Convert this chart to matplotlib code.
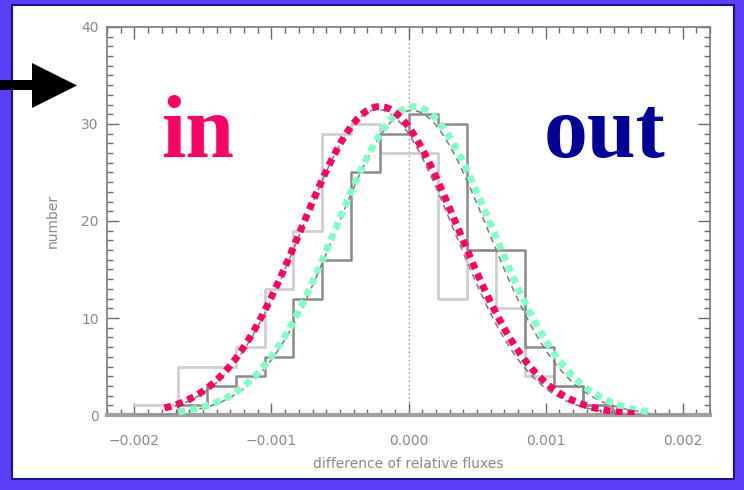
import numpy as np
import matplotlib
matplotlib.use("Agg")
import matplotlib.pyplot as plt
from matplotlib.patches import Rectangle, Polygon
from matplotlib.ticker import FixedLocator, FixedFormatter, MultipleLocator

# Histogram bin centres (difference of relative fluxes)
bin_centers = [-0.002000, -0.001789, -0.001578, -0.001367, -0.001156,
               -0.000945, -0.000734, -0.000523, -0.000312, -0.000101,
               0.000110, 0.000321, 0.000532, 0.000743, 0.000954,
               0.001165, 0.001376, 0.001587, 0.001798, 0.002009]
# counts inside / outside
counts_in = [1, 1, 5, 5, 7, 13, 19, 29, 30, 27, 27, 12, 17, 11, 4, 3, 1, 0, 0, 0]
counts_out = [0, 0, 1, 3, 4, 6, 12, 16, 25, 29, 31, 30, 17, 17, 7, 3, 1, 0, 0, 0]

# Gaussian fits (amplitude, centre, sigma, x-start, x-end)
fit_in = (31.8, -0.00021, 0.00057, -0.00178, 0.00165)
fit_out = (31.8, 0.00004, 0.00057, -0.00168, 0.00175)
# fitted curves from the reduction (thin dashed)
fit_in_base = (31.5, -0.000225, 0.000555, -0.00178, 0.00165)
fit_out_base = (31.4, 0.000025, 0.000555, -0.00168, 0.00175)

x_ticks = [-0.002, -0.001, 0.000, 0.001, 0.002]
x_tick_labels = ["\u22120.002", "\u22120.001", "0.000", "0.001", "0.002"]
y_ticks = [0, 10, 20, 30, 40]
y_tick_labels = ["0", "10", "20", "30", "40"]

W, H = 744, 490
fig = plt.figure(figsize=(W / 100, H / 100), dpi=100)
fig.patch.set_facecolor("#5a3ff6")


def fx(px):
    return px / W


def fy(py):
    return 1 - py / H


# white slide panel with a navy rim
panel = Rectangle((fx(12), fy(479)), fx(734) - fx(12), fy(5) - fy(479),
                  transform=fig.transFigure, facecolor="white",
                  edgecolor="#14148c", linewidth=1.5, zorder=-5)
fig.patches.append(panel)

ax = fig.add_axes([fx(107), fy(415), fx(710) - fx(107), fy(27) - fy(415)], zorder=2)
ax.set_facecolor("white")
ax.set_xlim(-0.0022, 0.0022)
ax.set_ylim(0, 40)


def gauss_curve(p):
    a, mu, s, x0, x1 = p
    x = np.linspace(x0, x1, 400)
    return x, a * np.exp(-0.5 * ((x - mu) / s) ** 2)


ax.step(bin_centers, counts_in, where="mid", color="#cfcfcf", lw=2.0, zorder=2)
ax.step(bin_centers, counts_out, where="mid", color="#8a8a8a", lw=1.8, zorder=3)

for p in (fit_in_base, fit_out_base):
    x, y = gauss_curve(p)
    ax.plot(x, y, color="#7a7a7a", lw=1.1, ls=(0, (4, 3)), zorder=4)

ax.axvline(0.0, color="#909090", lw=1.0, ls=(0, (1, 2)), zorder=1)

x, y = gauss_curve(fit_in)
ax.plot(x, y, color="#ff0066", lw=5.0, ls=(0, (1, 0.75)), solid_capstyle="butt",
        dash_capstyle="butt", zorder=6)
x, y = gauss_curve(fit_out)
ax.plot(x, y, color="#80ffc4", lw=5.0, ls=(0, (1, 0.75)), solid_capstyle="butt",
        dash_capstyle="butt", zorder=5)

for s in ax.spines.values():
    s.set_color("#7a7a7a")
    s.set_linewidth(1.2)
ax.spines["bottom"].set_color("#a0a0a0")
ax.spines["bottom"].set_linewidth(3)

ax.xaxis.set_major_locator(FixedLocator(x_ticks))
ax.xaxis.set_major_formatter(FixedFormatter(x_tick_labels))
ax.xaxis.set_minor_locator(MultipleLocator(0.0001))
ax.yaxis.set_major_locator(FixedLocator(y_ticks))
ax.yaxis.set_major_formatter(FixedFormatter(y_tick_labels))
ax.yaxis.set_minor_locator(MultipleLocator(1))
ax.tick_params(which="both", direction="in", top=True, right=True, color="#6a6a6a",
               labelcolor="#8a8a8a", labelsize=10)
ax.tick_params(which="major", length=8.5, width=1.0)
ax.tick_params(which="minor", length=4.3, width=1.0)
ax.tick_params(axis="x", pad=14)
ax.tick_params(axis="y", pad=6)

ax.set_xlabel("difference of relative fluxes", color="#8a8a8a", fontsize=10, labelpad=6)
ax.set_ylabel("number", color="#8a8a8a", fontsize=10, labelpad=15)

# labels for the two samples
fig.text(fx(161), fy(157), "in", color="#ff0066", fontsize=63, fontweight="bold",
         family="Liberation Serif", ha="left", va="baseline", zorder=8)
fig.text(fx(544), fy(157), "out", color="#000099", fontsize=63, fontweight="bold",
         family="Liberation Serif", ha="left", va="baseline", zorder=8)

# pointer arrow on the left
arrow = Polygon([(fx(0), fy(80)), (fx(32), fy(80)), (fx(32), fy(63)), (fx(77), fy(85.5)),
                 (fx(32), fy(108)), (fx(32), fy(90)), (fx(0), fy(90))],
                closed=True, transform=fig.transFigure, facecolor="black",
                edgecolor="none", zorder=10)
fig.patches.append(arrow)

fig.savefig("out.png", dpi=100, facecolor=fig.get_facecolor())
